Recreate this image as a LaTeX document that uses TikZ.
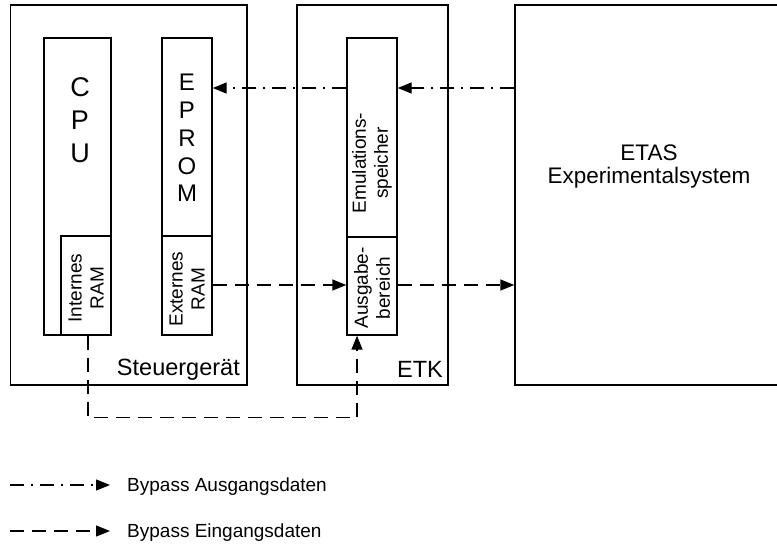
\documentclass[tikz,border=0pt]{standalone}
\usepackage{fontspec}
\setmainfont{Liberation Sans}
\usetikzlibrary{arrows.meta}
\tikzset{
  box/.style={draw, line width=1.4pt, rectangle, inner sep=0pt},
  dashln/.style={line width=1.4pt, dash pattern=on 14pt off 8pt},
  dotln/.style={line width=1.4pt, dash pattern=on 14pt off 7pt on 2pt off 7pt},
  tipA/.style={-{Triangle[length=14pt,width=11pt]}},
  rotlbl/.style={rotate=90, align=center, inner sep=0pt, font=\fontsize{19}{22}\selectfont},
  biglbl/.style={align=center, inner sep=0pt},
  plain/.style={inner sep=0pt, font=\fontsize{23.5}{27}\selectfont},
  legtxt/.style={inner sep=0pt, anchor=base west, font=\fontsize{19}{22}\selectfont}
}
\begin{document}
\begin{tikzpicture}[x=1pt,y=-1pt]
\useasboundingbox (0,0) rectangle (777,544);
\clip (0,0) rectangle (777,544);
% outer boxes
\node[box, minimum width=236.5pt, minimum height=380pt] (SG) at (128.75,195) {};
\node[box, minimum width=151pt, minimum height=380pt] (ETK) at (372.5,195) {};
\node[box, minimum width=263pt, minimum height=380pt] (ETAS) at (646.5,195) {};
% inner boxes
\node[box, minimum width=67pt, minimum height=297pt] (CPU) at (77.5,186.5) {};
\node[box, fill=white, minimum width=50pt, minimum height=99pt] (IRAM) at (86,285.5) {};
\node[box, minimum width=50pt, minimum height=198pt] (EPROM) at (187,137) {};
\node[box, minimum width=50pt, minimum height=99pt] (XRAM) at (187,285.5) {};
\node[box, minimum width=50pt, minimum height=199pt] (EMU) at (372,137.5) {};
\node[box, minimum width=50pt, minimum height=98pt] (AUS) at (372,286) {};
% texts
\node[biglbl, font=\fontsize{27}{33}\selectfont] (tCPU) at (80,120) {C\\P\\U};
\node[biglbl, font=\fontsize{24}{27.75}\selectfont] (tEPROM) at (187,138) {E\\P\\R\\O\\M};
\node[rotlbl] (tIRAM) at (86,288) {Internes\\RAM};
\node[rotlbl] (tXRAM) at (187,289) {Externes\\RAM};
\node[rotlbl] (tEMU) at (372,163) {Emulations-\\speicher};
\node[rotlbl] (tAUS) at (372,288) {Ausgabe-\\bereich};
\node[plain, anchor=base east] (tSG) at (240,375) {Steuergerät};
\node[plain, anchor=base east] (tETK) at (443,377) {ETK};
\node[inner sep=0pt, anchor=base, font=\fontsize{22.5}{26}\selectfont] (tETAS1) at (649,160) {ETAS};
\node[inner sep=0pt, anchor=base, font=\fontsize{22.5}{26}\selectfont] (tETAS2) at (649,183) {Experimentalsystem};
% connector levels
\coordinate (yA) at (0,88);
\coordinate (yB) at (0,285);
% dash-dot arrows (Bypass Ausgangsdaten)
\draw[dotln, tipA] (ETAS.west |- yA) -- (EMU.east |- yA);
\draw[dotln, tipA] (EMU.west |- yA) -- (EPROM.east |- yA);
% dashed arrows (Bypass Eingangsdaten)
\draw[dashln, tipA] (XRAM.east |- yB) -- (AUS.west |- yB);
\draw[dashln, tipA] (AUS.east |- yB) -- (ETAS.west |- yB);
\draw[dashln, tipA] ([xshift=2pt]IRAM.south) -- ++(0,82) -| ([xshift=-15pt]AUS.south);
% legend
\coordinate (L1a) at (10,485);
\coordinate (L1b) at (110,485);
\coordinate (L2a) at (10,531);
\coordinate (L2b) at (110,531);
\draw[dotln, tipA] (L1a) -- (L1b);
\draw[dashln, tipA] (L2a) -- (L2b);
\node[legtxt] (leg1) at (127,491.5) {Bypass Ausgangsdaten};
\node[legtxt] (leg2) at (127,537.5) {Bypass Eingangsdaten};
\end{tikzpicture}
\end{document}
